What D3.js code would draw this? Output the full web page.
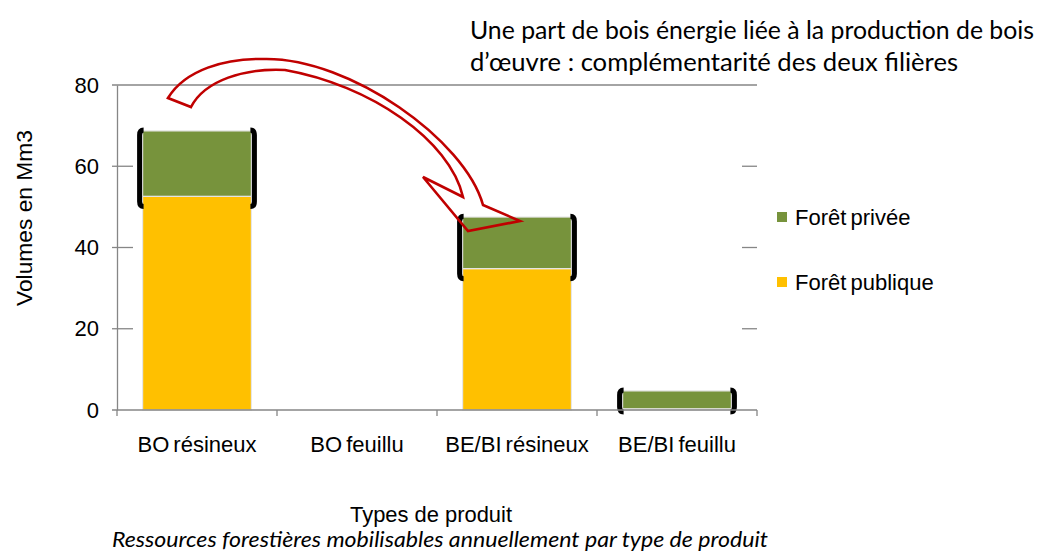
<!DOCTYPE html>
<html>
<head>
<meta charset="utf-8">
<script src="https://cdn.jsdelivr.net/npm/d3@7"></script>
<style>
  html, body { margin: 0; padding: 0; background: #fff; }
  svg { display: block; }
</style>
</head>
<body>
<svg id="chart" width="1039" height="553"></svg>
<script>
// ---- data ----
const categories = ["BO résineux", "BO feuillu", "BE/BI résineux", "BE/BI feuillu"];
const seriesNames = ["Forêt publique", "Forêt privée"];
const foretPublique = [52.6, 0, 34.8, 0.3];
const foretPrivee  = [16.1, 0, 12.7, 4.4];
const yTicks = [0, 20, 40, 60, 80];
const colors = ["#FFC000", "#77933C"];
const titleLines = ["Une part de bois énergie liée à la production de bois",
                    "d’œuvre : complémentarité des deux filières"];
const yAxisTitle = "Volumes en Mm3";
const xAxisTitle = "Types de produit";
const caption = "Ressources forestières mobilisables annuellement par type de produit";

// ---- layout ----
const svg = d3.select("#chart");
const pLeft = 117, pRight = 757, pTop = 85, pBottom = 410;
const axisColor = "#868686";
const sansFont = "'Liberation Sans', Arial, sans-serif";
const calFont = "Lato, 'Open Sans', sans-serif";
const fs = 22;

const x = d3.scaleBand().domain(categories).range([pLeft, pRight])
  .paddingInner(0.32).paddingOuter(0.16).align(0.5);
const y = d3.scaleLinear().domain([0, 80]).range([pBottom, pTop]);

const rows = categories.map((c, i) => ({ cat: c, pub: foretPublique[i], priv: foretPrivee[i] }));
const stack = d3.stack().keys(["pub", "priv"])(rows);

// top line at 80 (plot top)
svg.append("line").attr("x1", pLeft - 5).attr("x2", pRight).attr("y1", y(80)).attr("y2", y(80))
  .attr("stroke", axisColor).attr("stroke-width", 1.3);

// left-side ticks (crossing the axis) and right-side ticks
const midTicks = yTicks.filter(t => t !== 80 && t !== 0);
svg.append("g").selectAll("line").data(midTicks).join("line")
  .attr("x1", pLeft - 5).attr("x2", pLeft + 16).attr("y1", d => y(d)).attr("y2", d => y(d))
  .attr("stroke", axisColor).attr("stroke-width", 1.3);
svg.append("g").selectAll("line").data(midTicks).join("line")
  .attr("x1", pRight - 15).attr("x2", pRight).attr("y1", d => y(d)).attr("y2", d => y(d))
  .attr("stroke", axisColor).attr("stroke-width", 1.3);

// y axis
const yAxis = d3.axisLeft(y).tickValues(yTicks).tickSize(0).tickPadding(18);
const gy = svg.append("g").attr("transform", `translate(${pLeft},0)`).call(yAxis);
gy.select(".domain").attr("stroke", axisColor).attr("stroke-width", 1.3);
gy.selectAll("text").attr("font-family", sansFont).attr("font-size", fs).attr("fill", "#000");

// bars
svg.append("g").selectAll("g").data(stack).join("g")
  .attr("fill", (d, i) => colors[i])
  .selectAll("rect").data(d => d).join("rect")
  .attr("x", d => x(d.data.cat))
  .attr("width", x.bandwidth())
  .attr("y", d => y(d[1]))
  .attr("height", d => Math.max(0, y(d[0]) - y(d[1])))
  .attr("stroke", "#e6e6e6").attr("stroke-width", 1.2);

// bracket shapes around the private-forest part
const bracketData = rows.filter(r => r.pub + r.priv > 0).map(r => ({
  cat: r.cat, hi: r.pub + r.priv + 0.2, lo: Math.max(r.pub - 2.5, -0.5)
}));
const br = svg.append("g").attr("fill", "none").attr("stroke", "#000").attr("stroke-width", 5);
bracketData.forEach(b => {
  const xl = x(b.cat) - 3, xr = x(b.cat) + x.bandwidth() + 3;
  const t = y(b.hi), bt = y(b.lo);
  br.append("path").attr("d",
    `M${xl + 4},${t} Q${xl},${t} ${xl},${t + 5} L${xl},${bt - 5} Q${xl},${bt} ${xl + 4},${bt}`);
  br.append("path").attr("d",
    `M${xr - 4},${t} Q${xr},${t} ${xr},${t + 5} L${xr},${bt - 5} Q${xr},${bt} ${xr - 4},${bt}`);
});

// x axis
const xAxis = d3.axisBottom(x).tickSize(0).tickPadding(26);
const gx = svg.append("g").attr("transform", `translate(0,${pBottom})`).call(xAxis);
gx.select(".domain").attr("stroke", axisColor).attr("stroke-width", 1.3).attr("d", `M${pLeft - 5},0H${pRight}`);
gx.selectAll("text").attr("font-family", sansFont).attr("font-size", fs).attr("fill", "#000")
  .attr("word-spacing", "-2px");
// category boundary ticks
const boundaries = [pLeft, ...categories.slice(1).map(c => x(c) - (x.step() - x.bandwidth()) * 0.5), pRight];
gx.selectAll("line.bt").data(boundaries).join("line")
  .attr("x1", d => d).attr("x2", d => d).attr("y1", 0).attr("y2", 6)
  .attr("stroke", axisColor).attr("stroke-width", 1.3);

// axis titles
svg.append("text").attr("transform", "translate(32,218) rotate(-90)")
  .attr("text-anchor", "middle").attr("font-family", sansFont).attr("font-size", fs)
  .attr("textLength", 176).attr("lengthAdjust", "spacingAndGlyphs").text(yAxisTitle);
svg.append("text").attr("x", 431).attr("y", 522).attr("text-anchor", "middle")
  .attr("font-family", sansFont).attr("font-size", fs)
  .attr("textLength", 162).attr("lengthAdjust", "spacingAndGlyphs").text(xAxisTitle);

// caption
svg.append("text").attr("x", 440).attr("y", 547).attr("text-anchor", "middle")
  .attr("font-family", calFont).attr("font-style", "italic").attr("font-size", 21.5)
  .attr("textLength", 656).attr("lengthAdjust", "spacingAndGlyphs").text(caption);

// title annotation
svg.append("g").selectAll("text").data(titleLines).join("text")
  .attr("x", 470).attr("y", (d, i) => 39 + i * 31.5)
  .attr("font-family", calFont).attr("font-size", 25).attr("fill", "#000")
  .attr("textLength", (d, i) => i === 0 ? 564 : 488).attr("lengthAdjust", "spacingAndGlyphs")
  .text(d => d);

// legend
const legendItems = [{ name: seriesNames[1], color: colors[1] }, { name: seriesNames[0], color: colors[0] }];
const lg = svg.append("g").selectAll("g").data(legendItems).join("g")
  .attr("transform", (d, i) => `translate(777,${212 + i * 65})`);
lg.append("rect").attr("width", 10).attr("height", 10).attr("fill", d => d.color);
lg.append("text").attr("x", 18).attr("y", 13).attr("font-family", sansFont).attr("font-size", fs)
  .attr("word-spacing", "-2px").text(d => d.name);

// curved block arrow annotation
const arrowPath = "M168,98 C185,70 225,58 265,59 C350,58 465,140 483,205 L520,221 L468,231 L423,177 L463,197 " +
  "C450,140 370,85 285,70 C245,68 205,80 191,107 Z";
svg.append("path").attr("d", arrowPath).attr("fill", "none")
  .attr("stroke", "#C00000").attr("stroke-width", 2.6).attr("stroke-linejoin", "miter");
</script>
</body>
</html>
